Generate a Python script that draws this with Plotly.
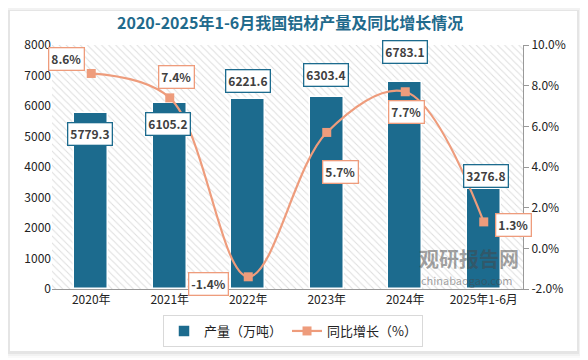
import plotly.graph_objects as go

categories = ["2020年", "2021年", "2022年", "2023年", "2024年", "2025年1-6月"]
output = [5779.3, 6105.2, 6221.6, 6303.4, 6783.1, 3276.8]
growth = [8.6, 7.4, -1.4, 5.7, 7.7, 1.3]
left_ticks = [0, 1000, 2000, 3000, 4000, 5000, 6000, 7000, 8000]
right_ticks = [-2, 0, 2, 4, 6, 8, 10]

OFF = 8  # page body margin
W, H = 588 - OFF, 360 - OFF
ML, MT = 52 - OFF, 45 - OFF
PW, PH = 471, 244
MR, MB = W - ML - PW, H - MT - PH

def px(x):
    return (x - OFF - ML) / PW

def py(y):
    return (MT + PH - (y - OFF)) / PH

BAR = "#1C6B8E"
LINE = "#EE9C7C"
FONT = "Noto Sans CJK SC"

xs = list(range(len(categories)))

fig = go.Figure()

# hatched plot background
fig.add_trace(go.Bar(
    x=[(len(categories) - 1) / 2], y=[left_ticks[-1]], width=[len(categories)],
    marker=dict(color="white", line=dict(width=0),
                pattern=dict(shape="\\", fgcolor="#bdbdbd", bgcolor="white", size=5, solidity=0.2)),
    hoverinfo="skip", showlegend=False,
))

fig.add_trace(go.Bar(
    x=xs, y=output, width=0.43, name="产量（万吨）",
    marker=dict(color=BAR, line=dict(color="white", width=1.5)),
))

fig.add_trace(go.Scatter(
    x=xs, y=growth, yaxis="y2", name="同比增长（%）", mode="lines+markers",
    line=dict(color=LINE, width=2.2, shape="spline", smoothing=1.0),
    marker=dict(symbol="square", size=9, color=LINE),
))

bar_pos = [(90, 134), (168, 124), (248, 81), (326, 75), (405, 52), (486, 176)]
for i, v in enumerate(output):
    fig.add_annotation(
        x=px(bar_pos[i][0]), y=py(bar_pos[i][1]), xref="paper", yref="paper",
        xanchor="center", yanchor="middle",
        text=f"<b>{v:.1f}</b>", showarrow=False,
        font=dict(family=FONT, size=12, color="#404040"),
        bgcolor="white", bordercolor=BAR, borderwidth=1.3, borderpad=2,
    )

pct_pos = [(66, 59), (176, 77), (208, 284), (340, 172), (406, 112), (513, 225)]
for i, g in enumerate(growth):
    fig.add_annotation(
        x=px(pct_pos[i][0]), y=py(pct_pos[i][1]), xref="paper", yref="paper",
        xanchor="center", yanchor="middle",
        text=f"<b>{g:.1f}%</b>", showarrow=False,
        font=dict(family=FONT, size=12, color="#404040"),
        bgcolor="white", bordercolor=LINE, borderwidth=1.3, borderpad=2,
    )

# watermark
fig.add_annotation(x=px(469), y=py(258), xref="paper", yref="paper", showarrow=False,
                   xanchor="center", yanchor="middle",
                   text="<b>观研报告网</b>", font=dict(family=FONT, size=20, color="rgba(70,70,70,0.5)"))
fig.add_annotation(x=px(467), y=py(280), xref="paper", yref="paper", showarrow=False,
                   xanchor="center", yanchor="middle",
                   text="chinabaogao.com", font=dict(family=FONT, size=11, color="rgba(70,70,70,0.5)"))

# title
fig.add_annotation(x=px(290), y=py(22), xref="paper", yref="paper", showarrow=False,
                   xanchor="center", yanchor="middle",
                   text="<b>2020-2025年1-6月我国铝材产量及同比增长情况</b>",
                   font=dict(family=FONT, size=16, color="#1F6A8C"))

shapes = []
for (grow, op) in [(6, 0.02), (4, 0.03), (2, 0.05)]:
    shapes.append(dict(type="rect", xref="paper", yref="paper", layer="below",
                       x0=px(10 - grow), x1=px(577 + grow),
                       y0=py(351 + grow + 1), y1=py(11 - grow + 1),
                       fillcolor=f"rgba(0,0,0,{op})", line=dict(width=0)))
shapes.append(dict(type="rect", xref="paper", yref="paper", layer="below",
                   x0=px(10), x1=px(577), y0=py(351), y1=py(11),
                   fillcolor="white", line=dict(width=0)))

fig.update_layout(
    width=W, height=H,
    margin=dict(l=ML, r=MR, t=MT, b=MB, autoexpand=False),
    paper_bgcolor="white", plot_bgcolor="rgba(0,0,0,0)",
    barmode="overlay", bargap=0,
    font=dict(family=FONT, size=12, color="#222"),
    shapes=shapes,
    showlegend=True,
    legend=dict(orientation="h", x=px(293), xanchor="center", y=py(331), yanchor="middle",
                bordercolor="#d9d9d9", borderwidth=1, bgcolor="white",
                font=dict(family=FONT, size=13, color="#222"),
                itemwidth=30, traceorder="normal", tracegroupgap=0),
    xaxis=dict(range=[-0.5, len(categories) - 0.5], tickmode="array", tickvals=xs, ticktext=categories,
               showgrid=False, zeroline=False, showline=True, linecolor="#999", linewidth=1,
               ticks="", tickfont=dict(size=12, color="#222")),
    yaxis=dict(range=[left_ticks[0], left_ticks[-1]], tickmode="array", tickvals=left_ticks,
               showgrid=False, zeroline=False, showline=False, ticks="",
               tickfont=dict(size=12, color="#222")),
    yaxis2=dict(range=[right_ticks[0], right_ticks[-1]], overlaying="y", side="right",
                tickmode="array", tickvals=right_ticks, ticktext=[f"{t:.1f}%" for t in right_ticks],
                showgrid=False, zeroline=False, showline=True, linecolor="#999", linewidth=1,
                ticks="outside", ticklen=5, tickcolor="#999",
                tickfont=dict(size=12, color="#222")),
)

fig.write_html("out.html")
